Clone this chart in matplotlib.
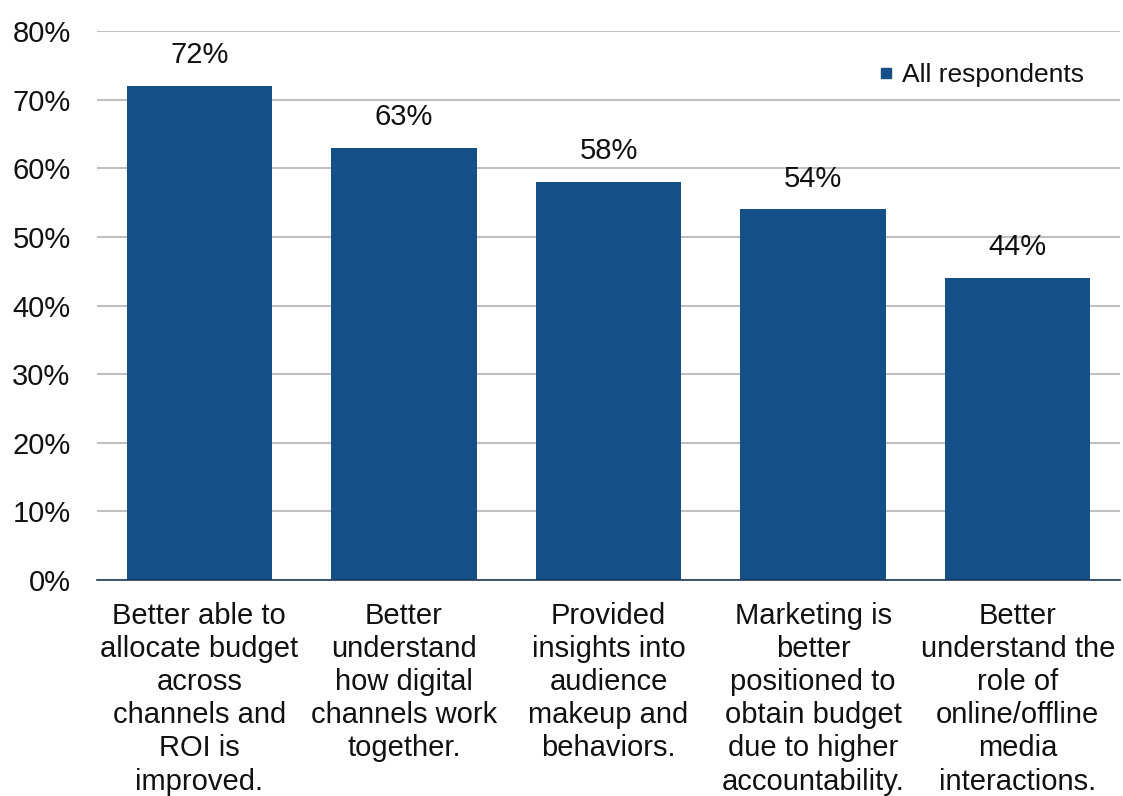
import matplotlib.pyplot as plt
from matplotlib.lines import Line2D

plt.rcParams['font.family'] = ['Liberation Sans', 'DejaVu Sans']

categories = [
    "Better able to\nallocate budget\nacross\nchannels and\nROI is\nimproved.",
    "Better\nunderstand\nhow digital\nchannels work\ntogether.",
    "Provided\ninsights into\naudience\nmakeup and\nbehaviors.",
    "Marketing is\nbetter\npositioned to\nobtain budget\ndue to higher\naccountability.",
    "Better\nunderstand the\nrole of\nonline/offline\nmedia\ninteractions.",
]
values = [72, 63, 58, 54, 44]
yticks = [0, 10, 20, 30, 40, 50, 60, 70, 80]
bar_color = '#154f87'

fig = plt.figure(figsize=(11.23, 7.96), dpi=100)
ax = fig.add_axes([97 / 1123, 1 - 580 / 796, (1120 - 97) / 1123, (580 - 31) / 796])

x = range(len(values))
ax.bar(x, values, width=0.71, color=bar_color, zorder=3)

for xi, v in zip(x, values):
    ax.annotate(f"{v}%", (xi, v), xytext=(0, 12), textcoords='offset points',
                ha='center', va='bottom', fontsize=21, color='#111111')

ax.set_xlim(-0.5, len(values) - 0.5)
ax.set_ylim(0, 80)
ax.set_yticks(yticks)
ax.set_yticklabels([f"{t}%" for t in yticks])
ax.set_xticks(list(x))
ax.set_xticklabels(categories, fontsize=21, linespacing=1.23, color='#111111')
ax.tick_params(axis='y', length=0, pad=19, labelsize=21, labelcolor='#111111')
ax.tick_params(axis='x', length=0, pad=16)

ax.yaxis.grid(True, color='#c0c0c0', linewidth=1.5, zorder=0)
ax.set_axisbelow(True)
for side in ['top', 'right', 'left']:
    ax.spines[side].set_visible(False)
ax.spines['bottom'].set_color('#1f3b5c')
ax.spines['bottom'].set_linewidth(1.2)
ax.spines['bottom'].set_zorder(4)

handle = Line2D([], [], marker='s', linestyle='none', markersize=7,
                color=bar_color)
fig.legend([handle], ['All respondents'], loc='center left',
           bbox_to_anchor=(854 / 1123, 1 - 75 / 796), frameon=False,
           fontsize=19, handlelength=0.6, handletextpad=0.3,
           labelcolor='#111111')

fig.savefig('out.png', dpi=100)
